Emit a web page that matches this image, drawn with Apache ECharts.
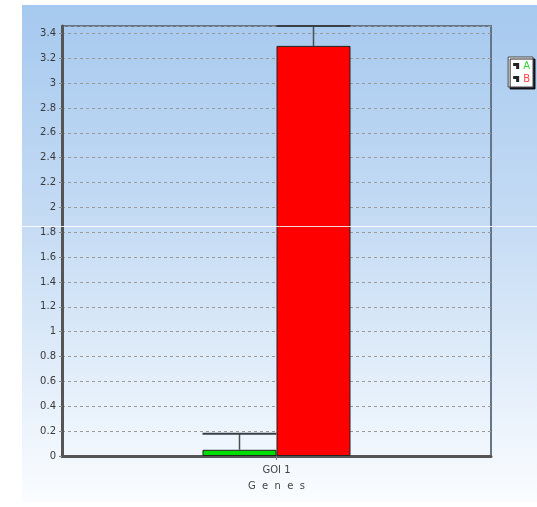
<!DOCTYPE html>
<html>
<head>
<meta charset="utf-8">
<style>
  html, body { margin: 0; padding: 0; background: #ffffff; }
  #chart { width: 537px; height: 507px; }
</style>
<script src="https://cdn.jsdelivr.net/npm/echarts@6/dist/echarts.min.js"></script>
</head>
<body>
<div id="chart"></div>
<script>
// Gene expression: one gene of interest, two sample groups
const categories = ['GOI 1'];
const seriesNames = ['A', 'B'];
const valuesA = [0.05];
const valuesB = [3.3];
// upper end of each error bar
const errorTopA = [0.18];
const errorTopB = [3.46];
const yTicks = ['0', '0.2', '0.4', '0.6', '0.8', '1', '1.2', '1.4', '1.6', '1.8', '2', '2.2', '2.4', '2.6', '2.8', '3', '3.2', '3.4'];

const categoryGap = 0.655;
const fontFamily = '"DejaVu Sans", Verdana, sans-serif';

const chart = echarts.init(document.getElementById('chart'), null, { renderer: 'canvas' });

// error bar records: [category index, bar value, error top, series slot]
const errorData = [];
categories.forEach((c, i) => {
  errorData.push([i, valuesA[i], errorTopA[i], 0]);
  errorData.push([i, valuesB[i], errorTopB[i], 1]);
});

function renderErrorBar(params, api) {
  const cat = api.value(0);
  const base = api.value(1);
  const top = api.value(2);
  const slot = api.value(3);
  const band = api.size([1, 0])[0];
  const barW = band * (1 - categoryGap) / 2;
  const cx = api.coord([cat, 0])[0] + (slot - 0.5) * barW;
  const yBase = api.coord([cat, base])[1];
  const yTop = api.coord([cat, top])[1];
  return {
    type: 'group',
    children: [
      { type: 'line', shape: { x1: cx, y1: yBase, x2: cx, y2: yTop }, style: { stroke: '#4a4f55', lineWidth: 1.5 } },
      { type: 'line', shape: { x1: cx - barW / 2, y1: yTop, x2: cx + barW / 2, y2: yTop }, style: { stroke: '#3a3f45', lineWidth: 2 } }
    ]
  };
}

const option = {
  animation: false,
  textStyle: { fontFamily: fontFamily },
  graphic: [
    {
      type: 'rect',
      z: -10,
      silent: true,
      shape: { x: 22, y: 5, width: 515, height: 498 },
      style: {
        fill: new echarts.graphic.LinearGradient(0, 0, 0, 1, [
          { offset: 0, color: '#a6c9ef' },
          { offset: 0.45, color: '#c6dcf4' },
          { offset: 1, color: '#fbfdff' }
        ])
      }
    },
    {
      type: 'line',
      z: 100,
      silent: true,
      shape: { x1: 22, y1: 226.5, x2: 537, y2: 226.5 },
      style: { stroke: 'rgba(255,255,255,0.85)', lineWidth: 1 }
    }
  ],
  legend: {
    orient: 'vertical',
    right: 4,
    top: 57,
    backgroundColor: '#ffffff',
    borderColor: '#444',
    borderWidth: 1,
    shadowColor: 'rgba(0,0,0,0.85)',
    shadowBlur: 0,
    shadowOffsetX: 2,
    shadowOffsetY: 2,
    padding: [4, 3, 3, 5],
    itemGap: 3,
    itemWidth: 4,
    itemHeight: 8,
    icon: 'path://M0,0 L4,0 L4,4 L3,4 L3,1 L0,1 Z',
    textStyle: { fontSize: 10, padding: [0, 0, 0, 0] },
    data: [
      { name: 'A', itemStyle: { color: '#666' }, textStyle: { color: '#33d633' } },
      { name: 'B', itemStyle: { color: '#666' }, textStyle: { color: '#ff4040' } }
    ]
  },
  grid: {
    left: 62,
    right: 46,
    top: 26,
    bottom: 51,
    show: true,
    backgroundColor: 'transparent',
    borderColor: '#66768a',
    borderWidth: 2
  },
  xAxis: {
    type: 'category',
    data: categories,
    axisLine: { show: true, lineStyle: { color: '#555', width: 3 } },
    axisTick: { show: true, alignWithLabel: true, length: 4, lineStyle: { color: '#777' } },
    axisLabel: { fontSize: 10, color: '#444', margin: 9 },
    name: 'G  e  n  e  s',
    nameLocation: 'middle',
    nameGap: 25,
    nameTextStyle: { fontSize: 10, color: '#444' }
  },
  yAxis: {
    type: 'value',
    min: 0,
    max: 3.46,
    interval: 0.2,
    axisLine: { show: true, lineStyle: { color: '#555', width: 3 } },
    axisTick: { show: true, length: 3, lineStyle: { color: '#888' } },
    axisLabel: {
      fontSize: 10,
      color: '#3a3a3a',
      margin: 6,
      showMaxLabel: false,
      formatter: v => {
        const k = Math.round(v / 0.2);
        return yTicks[k] !== undefined ? yTicks[k] : '';
      }
    },
    splitLine: { show: true, lineStyle: { color: '#9a9a9a', type: [3, 3], width: 1 } }
  },
  series: [
    {
      name: seriesNames[0],
      type: 'bar',
      data: valuesA,
      barGap: '0%',
      barCategoryGap: (categoryGap * 100) + '%',
      itemStyle: { color: '#00dd00', borderColor: '#222', borderWidth: 1 }
    },
    {
      name: seriesNames[1],
      type: 'bar',
      data: valuesB,
      barGap: '0%',
      barCategoryGap: (categoryGap * 100) + '%',
      itemStyle: { color: '#ff0000', borderColor: '#222', borderWidth: 1 }
    },
    {
      type: 'custom',
      renderItem: renderErrorBar,
      data: errorData,
      encode: { x: 0, y: [1, 2] },
      z: 10,
      silent: true
    }
  ]
};

chart.setOption(option);
</script>
</body>
</html>
